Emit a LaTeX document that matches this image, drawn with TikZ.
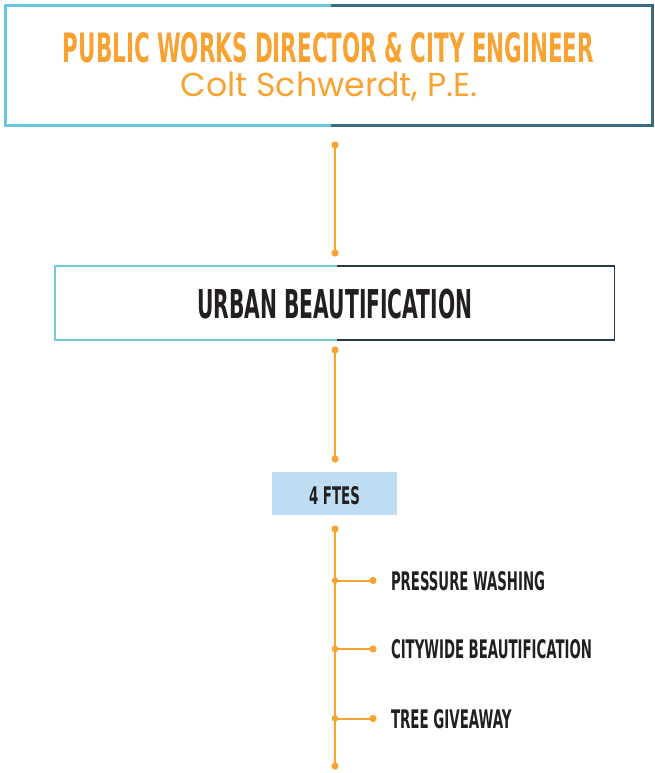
\documentclass[tikz,border=0pt]{standalone}
\usepackage{fontspec}
\usetikzlibrary{calc}
\newfontfamily\headfont{DejaVu Sans Condensed}
\newfontfamily\namefont{Poppins}

\definecolor{accent}{HTML}{F8A232}
\definecolor{lightedge}{HTML}{67C7E0}
\definecolor{darkedge}{HTML}{366E81}
\definecolor{lightedgeb}{HTML}{72CCD6}
\definecolor{darkedgeb}{HTML}{24394A}
\definecolor{ftefill}{HTML}{BFDDF2}
\definecolor{ink}{HTML}{231F20}

% caps label squeezed into a given width and cap height
\newcommand{\capsbox}[3]{\resizebox{#1}{#2}{\headfont\bfseries #3}}

\begin{document}
\begin{tikzpicture}[x=1pt,y=1pt,
  blank/.style={inner sep=0pt, outer sep=0pt},
  conn/.style={accent, line width=2.2pt},
  dot/.style={fill=accent, draw=none},
  lbl/.style={blank, anchor=base, text=ink},
  itemlbl/.style={blank, anchor=base west, text=ink}]
\useasboundingbox (0,0) rectangle (655,-773);

% director box
\node[blank, minimum width=647pt, minimum height=120.5pt] (top) at (328.5,-65.75) {};
\draw[lightedge, line width=3pt, line join=miter]
  (331,-5.5) -- (top.north west) -- (top.south west) -- (331,-126);
\draw[darkedge, line width=3pt, line join=miter]
  (331,-5.5) -- (top.north east) -- (top.south east) -- (331,-126);
\node[blank, anchor=base, text=accent] (title) at (328.5,-62.5)
  {\capsbox{531pt}{30pt}{PUBLIC WORKS DIRECTOR \& CITY ENGINEER}};
\node[blank, anchor=base, text=accent] (name) at (329,-96.5)
  {\resizebox{297pt}{!}{\namefont Colt Schwerdt, P.E.}};

% urban beautification box
\node[blank, minimum width=559.5pt, minimum height=74pt] (ub) at (334.75,-303) {};
\draw[lightedgeb, line width=1.5pt]
  (337,-266) -- (ub.north west) -- (ub.south west) -- (337,-340);
\draw[darkedgeb, line width=1.5pt]
  (337,-266) -- (ub.north east) -- (ub.south east) -- (337,-340);
\node[lbl] (ubtext) at (334.75,-318.5)
  {\capsbox{275pt}{29.5pt}{URBAN BEAUTIFICATION}};

% staff box
\node[blank, fill=ftefill, minimum width=125pt, minimum height=43pt] (fte) at (334.5,-493.5) {};
\node[lbl] (ftetext) at (334.5,-504)
  {\capsbox{51pt}{18pt}{4 FTES}};

% connectors between boxes
\coordinate (c1a) at (335,-145);
\coordinate (c1b) at (335,-253);
\coordinate (c2a) at (335,-350);
\coordinate (c2b) at (335,-459);
\draw[conn] (c1a) -- (c1b);
\draw[conn] (c2a) -- (c2b);
\foreach \p in {c1a,c1b,c2a,c2b} \fill[dot] (\p) circle (3.6pt);

% spine with branches
\coordinate (s0) at (335,-529);
\coordinate (s4) at (335,-766);
\draw[conn] (s0) -- (s4);
\fill[dot] (s0) circle (3.6pt);
\fill[dot] (s4) circle (3.6pt);

\foreach \n/\y/\w/\t in {1/-580.5/154pt/PRESSURE WASHING,
                         2/-649/201pt/CITYWIDE BEAUTIFICATION,
                         3/-718.5/120.5pt/TREE GIVEAWAY}{
  \coordinate (b\n) at (335,\y);
  \coordinate (e\n) at (373,\y);
  \draw[conn, line width=2pt] (b\n) -- (e\n);
  \fill[dot] (b\n) circle (3.3pt);
  \fill[dot] (e\n) circle (3.6pt);
  \node[itemlbl] (item\n) at ($(391,\y)+(0,-9.5)$) {\capsbox{\w}{19pt}{\t}};
}
\end{tikzpicture}
\end{document}
